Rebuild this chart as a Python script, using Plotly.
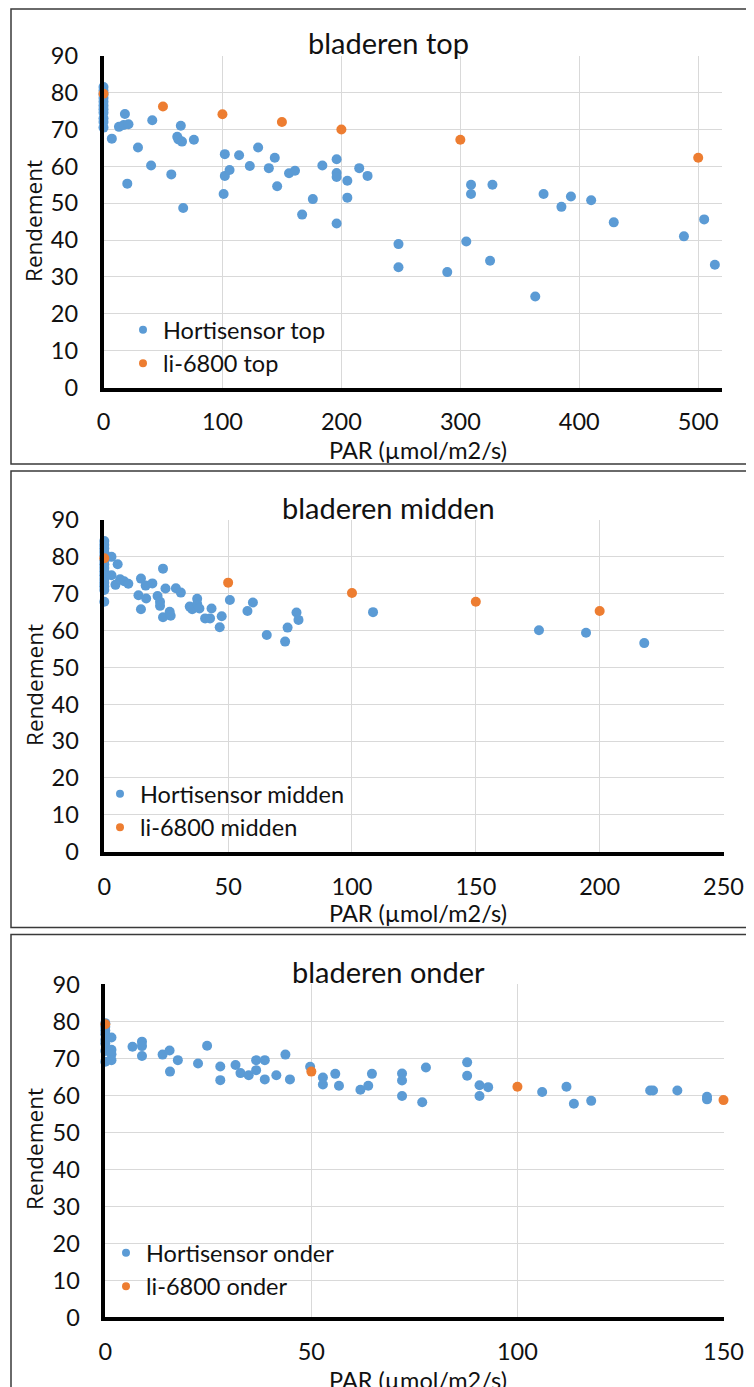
import plotly.graph_objects as go

# ---------------- DATA ----------------
# bladeren top
top_hs_x = [0, 0, 0, 0, 0, 0, 0, 0, 0, 0, 0,
            7, 13, 18, 17, 21, 20, 29, 40, 41, 57, 62, 65, 63, 66, 67, 76,
            102, 102, 106, 101, 114, 123, 130, 139, 144, 146, 156, 161, 167, 176,
            184, 196, 196, 196, 196, 205, 205, 215, 222,
            248, 248, 289, 305, 309, 309, 325, 327, 363, 370, 385, 393, 410, 429,
            488, 505, 514]
top_hs_y = [81.5, 80.5, 79.5, 78.5, 77.5, 76.5, 75.5, 74.5, 73, 72, 70.5,
            67.5, 70.7, 74.2, 71.2, 71.4, 55.3, 65.1, 60.2, 72.5, 57.8, 68, 71, 67.3, 66.7, 48.7, 67.2,
            63.3, 57.4, 59, 52.5, 63, 60.1, 65.1, 59.5, 62.3, 54.6, 58.1, 58.8, 46.9, 51.1,
            60.2, 61.9, 58.2, 57.1, 44.5, 56.1, 51.5, 59.5, 57.4,
            38.9, 32.6, 31.3, 39.6, 55, 52.5, 34.4, 55, 24.7, 52.5, 49, 51.8, 50.8, 44.8,
            41, 45.6, 33.3]
top_li_x = [0, 50, 100, 150, 200, 300, 500]
top_li_y = [79.7, 76.2, 74.1, 72, 70, 67.2, 62.3]

# bladeren midden
mid_hs_x = [0, 0, 0, 0, 0, 0, 0, 0, 0, 0, 0, 0, 0, 0, 0,
            2.9, 5.4, 2.9, 4.5, 6.4, 8, 9.7, 14.8, 13.8, 14.8, 16.7, 16.9, 19.4,
            21.5, 22.5, 22.5, 23.7, 23.7, 24.7, 26.4, 26.8, 28.9, 30.9,
            34.5, 35.5, 37.5, 37.5, 38.4, 40.7, 42.7, 43.3, 46.6, 47.4, 50.7,
            57.8, 60, 65.6, 73, 74, 77.6, 78.4, 108.5, 175.5, 194.5, 218]
mid_hs_y = [84.3, 83.3, 82.3, 81.3, 80.3, 79, 78, 77, 76, 75, 74, 73, 72, 71, 67.8,
            80, 78, 75, 72.4, 73.9, 73.4, 72.7, 74.1, 69.6, 65.8, 72.2, 68.7, 72.8,
            69.4, 67.8, 66.7, 76.8, 63.6, 71.4, 65.1, 64, 71.5, 70.3,
            66.5, 65.8, 68.6, 67.2, 66, 63.3, 63.3, 66, 60.9, 63.9, 68.3,
            65.3, 67.6, 58.8, 57, 60.8, 64.9, 62.9, 65, 60.1, 59.4, 56.6]
mid_li_x = [0, 50, 100, 150, 200]
mid_li_y = [79.6, 73, 70.2, 67.8, 65.3]

# bladeren onder
ond_hs_x = [0, 0, 0, 0, 0, 0, 0, 0,
            1.5, 1.5, 1.5, 1.5, 6.6, 8.9, 8.9, 8.9, 13.9, 15.6, 15.7, 17.6,
            22.5, 24.7, 27.9, 27.9, 31.6, 32.8, 34.8, 36.6, 36.6, 38.7, 38.7,
            41.5, 43.7, 44.8, 49.7, 52.8, 52.8, 55.8, 56.7, 61.9, 63.8, 64.7,
            72, 72, 72, 76.9, 77.8, 87.8, 87.8, 90.8, 90.8, 92.9,
            106, 111.9, 113.7, 117.9, 132.2, 132.9, 138.8, 146, 146]
ond_hs_y = [79.5, 78.5, 77.5, 76.5, 75, 74, 72, 69.1,
            75.6, 72.3, 71.1, 69.5, 73.1, 74.5, 73.3, 70.6, 71, 72.1, 66.4, 69.5,
            68.6, 73.4, 67.8, 64.1, 68.2, 66, 65.4, 69.5, 66.8, 69.5, 64.3,
            65.4, 71, 64.3, 67.7, 64.8, 62.9, 65.8, 62.6, 61.5, 62.6, 65.8,
            65.9, 64, 59.8, 58.1, 67.5, 68.9, 65.3, 62.7, 59.8, 62.2,
            60.9, 62.3, 57.7, 58.5, 61.3, 61.3, 61.3, 59.6, 58.9]
ond_li_x = [0, 50, 100, 150]
ond_li_y = [79.2, 66.4, 62.3, 58.7]

titles = ["bladeren top", "bladeren midden", "bladeren onder"]
hs_names = ["Hortisensor top", "Hortisensor midden", "Hortisensor onder"]
li_names = ["li-6800 top", "li-6800 midden", "li-6800 onder"]
x_tickvals = [[0, 100, 200, 300, 400, 500], [0, 50, 100, 150, 200, 250], [0, 50, 100, 150]]
x_ranges = [[0, 520], [0, 250], [0, 150]]
y_tickvals = [0, 10, 20, 30, 40, 50, 60, 70, 80, 90]
x_title = "PAR (µmol/m2/s)"
y_title = "Rendement"

# ---------------- LAYOUT HELPERS ----------------
# the page body has an 8px margin, so the figure starts at (8, 8) in the window
OFF = 8
W, H = 754 - OFF, 1387 - OFF
BLUE = "#5B9BD5"
ORANGE = "#ED7D31"
FONT = "Lato, 'Open Sans', sans-serif"
TXT = "#111111"


def fx(px):
    return (px - OFF) / W


def fy(py):
    return 1 - (py - OFF) / H


# panel geometry in window pixels
panels = [
    dict(x0=103.5, x1=722, ytop=55.7, ybot=387.5, title_y=43, xt_y=450, yt_y=221,
         leg_x=123, leg_y=308, box=(11, 9, 770, 464)),
    dict(x0=104.3, x1=723.5, ytop=520, ybot=851.7, title_y=507.5, xt_y=913, yt_y=685,
         leg_x=100, leg_y=772, box=(11, 471, 770, 927.5)),
    dict(x0=105.3, x1=723.5, ytop=984.3, ybot=1317.3, title_y=971.5, xt_y=1380, yt_y=1149,
         leg_x=106, leg_y=1231, box=(11, 934.5, 770, 1410)),
]

hs_x = [top_hs_x, mid_hs_x, ond_hs_x]
hs_y = [top_hs_y, mid_hs_y, ond_hs_y]
li_x = [top_li_x, mid_li_x, ond_li_x]
li_y = [top_li_y, mid_li_y, ond_li_y]

fig = go.Figure()
layout = dict(
    width=W, height=H,
    margin=dict(l=0, r=0, t=0, b=0, pad=0, autoexpand=False),
    paper_bgcolor="white", plot_bgcolor="white",
    showlegend=True,
    font=dict(family=FONT, size=24, color=TXT),
    annotations=[], shapes=[],
)

for i, p in enumerate(panels):
    n = "" if i == 0 else str(i + 1)
    xa, ya = "x" + n, "y" + n
    leg = "legend" + n
    fig.add_trace(go.Scatter(x=hs_x[i], y=hs_y[i], mode="markers", name=hs_names[i],
                             marker=dict(color=BLUE, size=10), xaxis=xa, yaxis=ya,
                             showlegend=False, cliponaxis=False))
    fig.add_trace(go.Scatter(x=li_x[i], y=li_y[i], mode="markers", name=li_names[i],
                             marker=dict(color=ORANGE, size=10), xaxis=xa, yaxis=ya,
                             showlegend=False, cliponaxis=False))
    # legend entries (smaller symbols, as in the original)
    fig.add_trace(go.Scatter(x=[None], y=[None], mode="markers", name=hs_names[i],
                             marker=dict(color=BLUE, size=8), xaxis=xa, yaxis=ya,
                             legend=leg, legendgroup="a" + n))
    fig.add_trace(go.Scatter(x=[None], y=[None], mode="markers", name=li_names[i],
                             marker=dict(color=ORANGE, size=8), xaxis=xa, yaxis=ya,
                             legend=leg, legendgroup="b" + n))

    layout["xaxis" + n] = dict(
        domain=[fx(p["x0"]), fx(p["x1"])], range=x_ranges[i],
        tickvals=x_tickvals[i], showgrid=True, gridcolor="#d9d9d9", gridwidth=1,
        zeroline=False, showline=True, linecolor="black", linewidth=3.5,
        anchor=ya, ticks="", ticklabelstandoff=11, automargin=False,
        tickfont=dict(family=FONT, size=23.5, color=TXT), fixedrange=True,
    )
    layout["yaxis" + n] = dict(
        domain=[fy(p["ybot"]), fy(p["ytop"])], range=[0, 90],
        tickvals=y_tickvals, showgrid=True, gridcolor="#d9d9d9", gridwidth=1,
        zeroline=False, showline=True, linecolor="black", linewidth=3.5,
        anchor=xa, ticks="", ticklabelstandoff=17, automargin=False,
        tickfont=dict(family=FONT, size=23.5, color=TXT), fixedrange=True,
    )
    layout[leg] = dict(
        x=fx(p["leg_x"]), y=fy(p["leg_y"]), xanchor="left", yanchor="top",
        bgcolor="rgba(0,0,0,0)", borderwidth=0, tracegroupgap=0,
        font=dict(family=FONT, size=23.5, color=TXT),
    )
    layout["annotations"] += [
        dict(text=titles[i], x=fx(388), y=fy(p["title_y"]), xref="paper", yref="paper",
             xanchor="center", yanchor="middle", showarrow=False,
             font=dict(family=FONT, size=29, color=TXT)),
        dict(text=x_title, x=fx(418), y=fy(p["xt_y"]), xref="paper", yref="paper",
             xanchor="center", yanchor="middle", showarrow=False,
             font=dict(family=FONT, size=23.5, color=TXT)),
        dict(text=y_title, x=fx(34), y=fy(p["yt_y"]), xref="paper", yref="paper",
             xanchor="center", yanchor="middle", showarrow=False, textangle=-90,
             font=dict(family="'Open Sans', sans-serif", size=22.5, color=TXT)),
    ]
    bx0, by0, bx1, by1 = p["box"]
    layout["shapes"].append(dict(type="rect", xref="paper", yref="paper",
                                 x0=fx(bx0), x1=fx(bx1), y0=fy(by1), y1=fy(by0),
                                 line=dict(color="#3a3a3a", width=1.5)))

fig.update_layout(**layout)
fig.write_html("out.html")
